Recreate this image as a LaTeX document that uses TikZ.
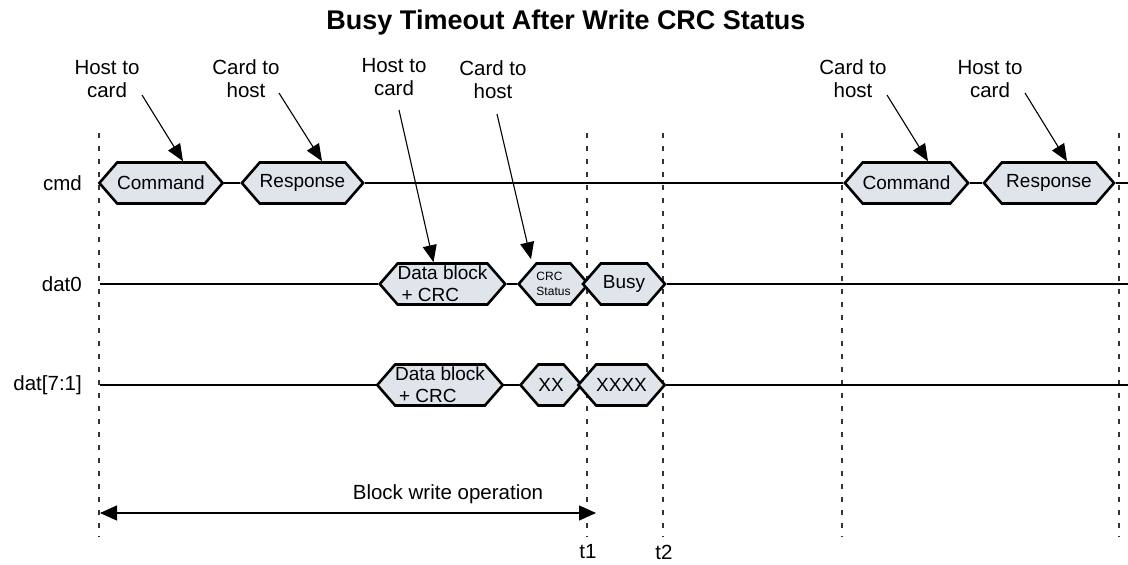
\documentclass[tikz,border=0pt]{standalone}
\usepackage{fontspec}
\setmainfont{Liberation Sans}
\usetikzlibrary{arrows.meta,shapes.symbols}
\definecolor{Ink}{HTML}{000000}
\definecolor{HexFill}{HTML}{E0E5EB}
\definecolor{GuideInk}{HTML}{333333}

\begin{document}
\begin{tikzpicture}[x=1pt,y=-1pt,
  hexbox/.style={signal,signal to=east and west,signal pointer angle=98,draw=Ink,fill=HexFill,line width=2.6pt,minimum height=41pt,inner sep=0pt,align=center,font=\fontsize{19}{22}\selectfont},
  wire/.style={Ink,line width=2.9pt},
  guide/.style={GuideInk,line width=1.1pt,dash pattern=on 5pt off 8pt},
  pointer/.style={-{Triangle[length=17pt,width=14pt]},Ink,line width=1.1pt},
  span/.style={{Triangle[length=17pt,width=15pt]}-{Triangle[length=17pt,width=15pt]},Ink,line width=1.1pt},
  note/.style={align=center,inner sep=0pt,font=\fontsize{20.5}{23}\selectfont},
  siglbl/.style={anchor=east,inner sep=0pt,font=\fontsize{20.5}{23}\selectfont}]
\useasboundingbox (0,0) rectangle (1128,565);

\node[font=\fontsize{27}{30}\selectfont\bfseries] (title) at (566,23) {Busy Timeout After Write CRC Status};

\foreach \gx in {99,587,663,842,1119}
  \draw[guide] (\gx,133) -- (\gx,537);

\node[siglbl] (cmdlbl) at (82,183) {cmd};
\node[siglbl] (d0lbl) at (82,284) {dat0};
\node[siglbl] (d71lbl) at (82,385) {dat[7:1]};

\node[hexbox,minimum width=122pt] (cmd1) at (161,183) {Command};
\node[hexbox,minimum width=121pt] (rsp1) at (302.5,183) {Response};
\node[hexbox,minimum width=123pt] (cmd2) at (906.5,183) {Command};
\node[hexbox,minimum width=130pt] (rsp2) at (1049,183) {Response};

\node[hexbox,minimum width=121pt,align=left] (d0blk) at (442.5,284) {Data block\\\hspace{4pt}+ CRC};
\node[hexbox,minimum width=59pt,align=left,font=\fontsize{12}{15}\selectfont] (crc) at (553.5,284) {CRC\\Status};
\node[hexbox,minimum width=82pt] (busy) at (624,284) {Busy};

\node[hexbox,minimum width=124pt,align=left] (d71blk) at (440,385) {Data block\\\hspace{4pt}+ CRC};
\node[hexbox,minimum width=58pt] (xx) at (551,385) {XX};
\node[hexbox,minimum width=83pt] (xxxx) at (621.5,385) {XXXX};

\coordinate (cmdend) at (1128,183);
\coordinate (d0start) at (100,284);
\coordinate (d0end) at (1128,284);
\coordinate (d71start) at (100,385);
\coordinate (d71end) at (1128,385);
\draw[wire] (cmd1.east) -- (rsp1.west) (rsp1.east) -- (cmd2.west) (cmd2.east) -- (rsp2.west) (rsp2.east) -- (cmdend);
\draw[wire] (d0start) -- (d0blk.west) (d0blk.east) -- (crc.west) (busy.east) -- (d0end);
\draw[wire] (d71start) -- (d71blk.west) (d71blk.east) -- (xx.west) (xxxx.east) -- (d71end);

\node[note] (ann1) at (107,79) {Host to\\card};
\node[note] (ann2) at (246,79) {Card to\\host};
\node[note] (ann3) at (394,77) {Host to\\card};
\node[note] (ann4) at (493,80) {Card to\\host};
\node[note] (ann5) at (853,79) {Card to\\host};
\node[note] (ann6) at (990,79) {Host to\\card};

\coordinate (p1) at (142,95);
\coordinate (p2) at (279,93);
\coordinate (p3) at (399,110);
\coordinate (p4) at (497,114);
\coordinate (p5) at (887,95);
\coordinate (p6) at (1025,93);
\draw[pointer] (p1) -- ([xshift=22pt]cmd1.north);
\draw[pointer] (p2) -- ([xshift=19.5pt]rsp1.north);
\draw[pointer] (p3) -- ([xshift=-9pt]d0blk.north);
\draw[pointer] (p4) -- ([xshift=-22.5pt,yshift=3pt]crc.north);
\draw[pointer] (p5) -- ([xshift=21.5pt]cmd2.north);
\draw[pointer] (p6) -- ([xshift=18pt]rsp2.north);

\coordinate (bwl) at (100,513);
\coordinate (bwr) at (596,513);
\draw[span] (bwl) -- (bwr);
\node[note] (bwlbl) at (448,494) {Block write operation};
\node[note] (t1) at (588,552) {t1};
\node[note] (t2) at (664,552) {t2};
\end{tikzpicture}
\end{document}
